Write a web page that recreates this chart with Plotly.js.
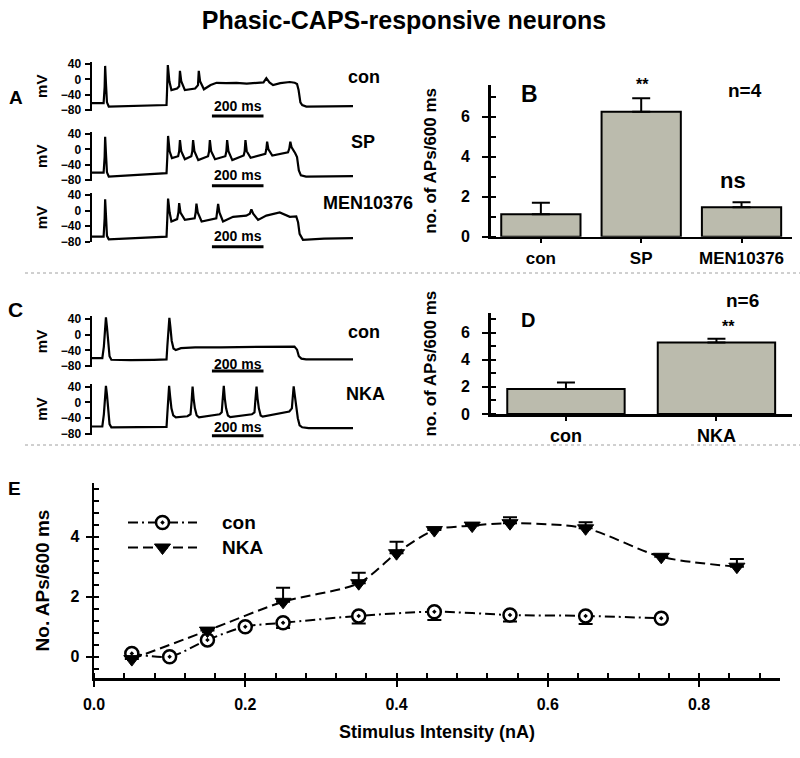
<!DOCTYPE html>
<html>
<head>
<meta charset="utf-8">
<script src="https://cdn.plot.ly/plotly-3.0.1.min.js"></script>
<style>html,body{margin:0;padding:0;background:#fff;}#chart{width:800px;height:758px;}</style>
</head>
<body>
<div id="chart"></div>
<script>
// ---------------- DATA ----------------
// Panel A: membrane potential traces (time in ms, potential in mV)
const tA_con = [0,45,49,51,54,58,65,150,240,289,291,294,300,308,330,338,341,346,360,400,411,414,419,434,460,483,520,560,600,640,665,676,688,702,730,767,786,795,801,808,815,831,900,1012];
const vA_con = [-62,-62,-20,35,-10,-60,-71,-70,-68,-67,-30,37,-5,-28,-24,-18,22,-5,-28,-24,-15,22,-5,-26,-15,-9,-10,-9,-11,-10,-8,3,-8,-15,-10,-7,-9,-12,-28,-60,-67,-71,-71,-70];

const tA_sp = [0,45,49,51,54,58,65,150,240,289,292,295,301,310,334,338,341,346,360,385,389,392,397,412,450,454,457,462,477,517,521,524,529,544,588,592,595,600,615,672,676,679,684,699,760,765,769,774,788,795,802,810,830,900,1012];
const vA_sp = [-61,-61,-20,33,-10,-60,-71,-68,-64,-62,-20,35,-5,-23,-18,-5,24,-5,-26,-18,-5,24,-5,-28,-18,-5,24,-5,-26,-18,-5,24,-5,-28,-16,-5,24,-5,-22,-12,0,20,0,-16,-8,2,20,5,-10,-20,-55,-68,-71,-70,-70];

const tA_men = [0,45,49,51,54,58,65,150,240,289,292,295,301,308,330,335,338,343,360,398,402,405,410,425,482,486,489,494,508,547,598,612,618,625,644,676,728,767,792,799,805,818,900,1012];
const vA_men = [-67,-67,-20,29,-10,-65,-74,-72,-69,-67,-20,31,-5,-28,-22,-5,19,-5,-24,-20,-5,18,-5,-28,-20,-5,17,-5,-28,-16,-13,-8,3,-8,-24,-13,-5,-16,-15,-30,-60,-75,-72,-71];

// Panel C: membrane potential traces
const tC_con = [0,40,46,50,54,58,62,68,75,150,240,289,292,296,300,304,309,316,325,345,400,500,600,700,785,795,802,812,830,1012];
const vC_con = [-60,-60,-30,20,45,20,-20,-55,-64,-65,-64,-63,-30,20,44,20,-15,-35,-39,-34,-32,-32,-31,-31,-30,-38,-55,-61,-63,-63];

const tC_nka = [0,40,46,50,54,58,62,68,75,150,240,289,292,295,299,303,308,315,325,370,382,386,390,394,399,406,415,495,503,507,511,515,520,527,536,620,630,634,638,642,647,654,662,765,775,778,782,786,791,798,805,815,840,1012];
const vC_nka = [-61,-61,-30,20,42,20,-20,-55,-63,-63,-63,-62,-30,10,42,15,-15,-33,-38,-35,-30,0,40,10,-15,-33,-38,-30,-25,10,42,10,-15,-33,-37,-30,-25,10,40,10,-15,-33,-36,-23,-15,10,41,20,-10,-40,-58,-63,-65,-65];

// Scale bars (200 ms)
const scaleBarT = [465, 665];
const scaleBarY = [0.5, 0.5];

// Panel B
const catB = ['con', 'SP', 'MEN10376'];
const valB = [1.12, 6.25, 1.47];
const errB = [0.58, 0.67, 0.25];

// Panel D
const catD = ['con', 'NKA'];
const valD = [1.84, 5.27];
const errD = [0.49, 0.29];

// Panel E
const xE_con = [0.05, 0.10, 0.15, 0.20, 0.25, 0.35, 0.45, 0.55, 0.65, 0.75];
const yE_con = [0.11, 0.00, 0.56, 1.00, 1.13, 1.36, 1.50, 1.39, 1.36, 1.28];
const eE_con = [0, 0, 0, 0, 0.17, 0.25, 0.28, 0.22, 0.27, 0];
const xE_nka = [0.05, 0.15, 0.25, 0.35, 0.40, 0.45, 0.50, 0.55, 0.65, 0.75, 0.85];
const yE_nka = [-0.08, 0.87, 1.83, 2.45, 3.45, 4.22, 4.37, 4.45, 4.28, 3.33, 3.00];
const eE_nka = [0, 0.05, 0.47, 0.35, 0.38, 0.05, 0.05, 0.20, 0.20, 0, 0.26];
const seriesE = ['con', 'NKA'];

// legend key samples (key axis units)
const keyLineX = [0, 1];
const keyMarkX = [0.5];
const keyRowY = [1.5, 0.5];

// ---------------- LAYOUT HELPERS ----------------
const W = 800, H = 758;
const FAM = 'Liberation Sans, Arial, Helvetica, sans-serif';
function f(size) { return {family: FAM, size: size, color: '#000', weight: 'bold'}; }
function px(p) { return p / W; }
function py(p) { return 1 - p / H; }

const conLine = {color: '#000', width: 2, dash: '10px,4px,2px,4px', shape: 'spline', smoothing: 0.8};
const nkaLine = {color: '#000', width: 2, dash: '10px,5px', shape: 'spline', smoothing: 0.8};
const conMarker = {symbol: 'circle-dot', size: 13, color: '#fff', line: {color: '#000', width: 2.5}};
const nkaMarker = {symbol: 'triangle-down', size: 14, color: '#000', line: {color: '#000', width: 1}};

const traces = [];
function vtrace(t, v, ya) {
  traces.push({x: t, y: v, xaxis: 'x', yaxis: ya, type: 'scatter', mode: 'lines',
    line: {color: '#000', width: 2.2}, hoverinfo: 'skip', showlegend: false});
}
vtrace(tA_con, vA_con, 'y');
vtrace(tA_sp, vA_sp, 'y2');
vtrace(tA_men, vA_men, 'y3');
vtrace(tC_con, vC_con, 'y4');
vtrace(tC_nka, vC_nka, 'y5');
['y6', 'y7', 'y8', 'y9', 'y10'].forEach(function (ya) {
  traces.push({x: scaleBarT, y: scaleBarY, xaxis: 'x', yaxis: ya, type: 'scatter', mode: 'lines',
    line: {color: '#000', width: 3}, hoverinfo: 'skip', showlegend: false});
});

const barStyle = {color: '#bbbbad', line: {color: '#000', width: 2}};
traces.push({x: catB, y: valB, type: 'bar', xaxis: 'x2', yaxis: 'y11', width: 0.79,
  marker: barStyle, showlegend: false, hoverinfo: 'skip',
  error_y: {type: 'data', symmetric: false, array: errB, arrayminus: [0, 0, 0], color: '#000', thickness: 2, width: 9}});
traces.push({x: catD, y: valD, type: 'bar', xaxis: 'x3', yaxis: 'y12', width: 0.78,
  marker: barStyle, showlegend: false, hoverinfo: 'skip',
  error_y: {type: 'data', symmetric: false, array: errD, arrayminus: [0, 0], color: '#000', thickness: 2, width: 9}});

traces.push({x: xE_con, y: yE_con, name: seriesE[0], type: 'scatter', mode: 'lines+markers', xaxis: 'x4', yaxis: 'y13',
  line: conLine, marker: conMarker, showlegend: false,
  error_y: {type: 'data', symmetric: false, array: eE_con.map(function () { return 0; }), arrayminus: eE_con, color: '#000', thickness: 2, width: 7},
  hoverinfo: 'skip'});
traces.push({x: xE_nka, y: yE_nka, name: seriesE[1], type: 'scatter', mode: 'lines+markers', xaxis: 'x4', yaxis: 'y13',
  line: nkaLine, marker: nkaMarker, showlegend: false,
  error_y: {type: 'data', symmetric: false, array: eE_nka, arrayminus: eE_nka.map(function () { return 0; }), color: '#000', thickness: 2, width: 7},
  hoverinfo: 'skip'});

// legend key (drawn on its own small axis)
traces.push({x: keyLineX, y: [keyRowY[0], keyRowY[0]], xaxis: 'x5', yaxis: 'y14', type: 'scatter', mode: 'lines',
  line: {color: '#000', width: 2, dash: '10px,4px,2px,4px'}, showlegend: false, hoverinfo: 'skip'});
traces.push({x: keyMarkX, y: [keyRowY[0]], xaxis: 'x5', yaxis: 'y14', type: 'scatter', mode: 'markers',
  marker: conMarker, showlegend: false, hoverinfo: 'skip', cliponaxis: false});
traces.push({x: keyLineX, y: [keyRowY[1], keyRowY[1]], xaxis: 'x5', yaxis: 'y14', type: 'scatter', mode: 'lines',
  line: {color: '#000', width: 2, dash: '10px,5px'}, showlegend: false, hoverinfo: 'skip'});
traces.push({x: keyMarkX, y: [keyRowY[1]], xaxis: 'x5', yaxis: 'y14', type: 'scatter', mode: 'markers',
  marker: nkaMarker, showlegend: false, hoverinfo: 'skip', cliponaxis: false});

// Voltage axes: [pixel of 40 mV, pixel of -80 mV, range]
function vAxis(p40, pm80, lo, hi) {
  const s = (pm80 - p40) / 120;
  const top = p40 - (hi - 40) * s, bot = pm80 + (-80 - lo) * s;
  return {domain: [py(bot), py(top)], range: [lo, hi], anchor: 'x',
    tickmode: 'array', tickvals: [-80, -40, 0, 40], ticks: 'outside', ticklen: 5, tickwidth: 2, tickcolor: '#000',
    showline: true, linewidth: 2.5, linecolor: '#000', showgrid: false, zeroline: false,
    tickfont: f(12), ticklabelstandoff: 1, title: {text: 'mV', font: f(15), standoff: 10}, fixedrange: true};
}
function auxAxis(pbar) {
  return {domain: [py(pbar + 3), py(pbar - 3)], range: [0, 1], anchor: 'x', visible: false, fixedrange: true};
}

const layout = {
  width: W, height: H, autosize: false,
  margin: {l: 0, r: 0, t: 0, b: 0},
  paper_bgcolor: '#fff', plot_bgcolor: 'rgba(0,0,0,0)',
  font: f(14),
  title: {text: 'Phasic-CAPS-responsive neurons', font: f(25), x: px(404), xanchor: 'center',
    y: py(20), yanchor: 'middle', xref: 'paper', yref: 'paper'},
  showlegend: false,
  xaxis: {domain: [px(92), px(353)], range: [0, 1012], anchor: 'y', visible: false, fixedrange: true},
  yaxis: vAxis(64, 110, -82, 46),
  yaxis2: vAxis(134, 180, -82, 46),
  yaxis3: vAxis(195, 241.7, -82, 46),
  yaxis4: vAxis(319.3, 366, -82, 48),
  yaxis5: vAxis(386.7, 434, -82, 48),
  yaxis6: auxAxis(116),
  yaxis7: auxAxis(185.7),
  yaxis8: auxAxis(246.7),
  yaxis9: auxAxis(371),
  yaxis10: auxAxis(435.7),
  xaxis2: {domain: [px(490.7), px(791.7)], range: [-0.5, 2.5], anchor: 'y11', type: 'category',
    showline: true, linewidth: 2.5, linecolor: '#000', ticks: 'outside', ticklen: 4, tickwidth: 2, tickcolor: '#000',
    tickfont: f(17), ticklabelstandoff: 0, showgrid: false, zeroline: false, fixedrange: true},
  yaxis11: {domain: [py(236.7), py(85)], range: [0, 7.585], anchor: 'x2', tickmode: 'linear', tick0: 0, dtick: 2,
    ticks: 'outside', ticklen: 6, tickwidth: 2, tickcolor: '#000',
    minor: {dtick: 1, tick0: 0, ticks: 'inside', ticklen: 5, tickwidth: 2, tickcolor: '#000', showgrid: false},
    showline: true, linewidth: 2.5, linecolor: '#000', showgrid: false, zeroline: false,
    tickfont: f(16), ticklabelstandoff: 9, title: {text: 'no. of APs/600 ms', font: f(17), standoff: 20}, fixedrange: true},
  xaxis3: {domain: [px(490.7), px(791.7)], range: [-0.5, 1.5], anchor: 'y12', type: 'category',
    showline: true, linewidth: 2.5, linecolor: '#000', ticks: 'outside', ticklen: 4, tickwidth: 2, tickcolor: '#000',
    tickfont: f(18), ticklabelstandoff: 0, showgrid: false, zeroline: false, fixedrange: true},
  yaxis12: {domain: [py(414), py(313.3)], range: [0, 7.43], anchor: 'x3', tickmode: 'linear', tick0: 0, dtick: 2,
    ticks: 'outside', ticklen: 6, tickwidth: 2, tickcolor: '#000',
    minor: {dtick: 1, tick0: 0, ticks: 'inside', ticklen: 5, tickwidth: 2, tickcolor: '#000', showgrid: false},
    showline: true, linewidth: 2.5, linecolor: '#000', showgrid: false, zeroline: false,
    tickfont: f(16), ticklabelstandoff: 9, title: {text: 'no. of APs/600 ms', font: f(17), standoff: 20}, fixedrange: true},
  xaxis4: {domain: [px(94), px(780)], range: [0, 0.907], anchor: 'y13', tickmode: 'linear', tick0: 0, dtick: 0.2,
    tickformat: '.1f', ticks: 'outside', ticklen: 6, tickwidth: 2, tickcolor: '#000',
    minor: {dtick: 0.04, tick0: 0, ticks: 'inside', ticklen: 5, tickwidth: 2, tickcolor: '#000', showgrid: false},
    showline: true, linewidth: 2.5, linecolor: '#000', showgrid: false, zeroline: false,
    tickfont: f(16), ticklabelstandoff: 4,
    title: {text: 'Stimulus Intensity (nA)', font: f(18), standoff: 14}, fixedrange: true},
  yaxis13: {domain: [py(678), py(483)], range: [-0.71, 5.79], anchor: 'x4', tickmode: 'linear', tick0: 0, dtick: 2,
    ticks: 'outside', ticklen: 6, tickwidth: 2, tickcolor: '#000',
    minor: {dtick: 0.4, tick0: 0, ticks: 'inside', ticklen: 5, tickwidth: 2, tickcolor: '#000', showgrid: false},
    showline: true, linewidth: 2.5, linecolor: '#000', showgrid: false, zeroline: false,
    tickfont: f(16), ticklabelstandoff: 3,
    title: {text: 'No. APs/600 ms', font: f(19), standoff: 16}, fixedrange: true},
  xaxis5: {domain: [px(128), px(197)], range: [0, 1], anchor: 'y14', visible: false, fixedrange: true},
  yaxis14: {domain: [py(560), py(510)], range: [0, 2], anchor: 'x5', visible: false, fixedrange: true},
  shapes: [
    {type: 'line', xref: 'paper', yref: 'paper', x0: px(25), x1: 1, y0: py(273), y1: py(273),
      line: {color: '#a0a0a0', width: 1, dash: 'dot'}},
    {type: 'line', xref: 'paper', yref: 'paper', x0: px(25), x1: 1, y0: py(445), y1: py(445),
      line: {color: '#a0a0a0', width: 1, dash: 'dot'}}
  ],
  annotations: []
};

function ann(text, x, y, size, extra) {
  const a = {text: text, x: px(x), y: py(y), xref: 'paper', yref: 'paper', showarrow: false,
    xanchor: 'center', yanchor: 'middle', font: f(size)};
  if (extra) Object.assign(a, extra);
  layout.annotations.push(a);
}
ann('A', 16, 98, 19);
ann('con', 364, 77, 18);
ann('SP', 363, 142, 18);
ann('MEN10376', 368, 203, 18);
ann('C', 15.5, 309.5, 21);
ann('con', 364, 332, 18);
ann('NKA', 365, 394, 18);
ann('B', 529, 94, 23);
ann('n=4', 745, 90.5, 19);
ann('**', 642.5, 85, 16);
ann('ns', 733, 181, 22);
ann('D', 528, 320, 20);
ann('n=6', 742.5, 300, 19);
ann('**', 728, 327, 16);
ann('E', 14, 488, 19);
// legend labels, next to the key samples
seriesE.forEach(function (name, i) {
  layout.annotations.push({text: name, x: 1, xref: 'x5', xshift: 23, y: keyRowY[i], yref: 'y14',
    showarrow: false, xanchor: 'left', yanchor: 'middle', font: f(19)});
});
// scale bar labels (x in ms on the time axis)
[105.7, 175, 236, 363.5, 426.7].forEach(function (yy) {
  layout.annotations.push({text: '200 ms', x: 565, xref: 'x', y: py(yy), yref: 'paper', showarrow: false,
    xanchor: 'center', yanchor: 'middle', font: f(14)});
});

Plotly.newPlot('chart', traces, layout, {staticPlot: true, displayModeBar: false});
</script>
</body>
</html>
